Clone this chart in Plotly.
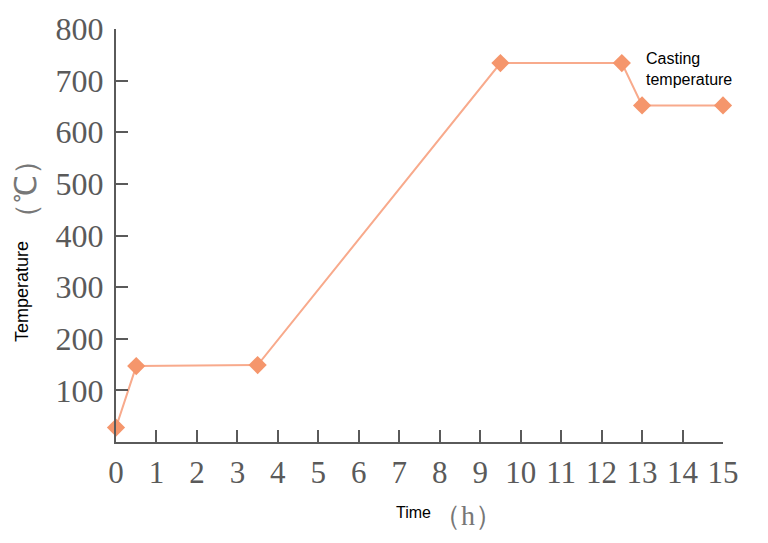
import plotly.graph_objects as go

time_h = [0, 0.5, 3.5, 9.5, 12.5, 13, 15]
temperature_c = [28, 147, 149, 734, 734, 652, 652]
x_ticks = list(range(0, 16))
y_ticks = [100, 200, 300, 400, 500, 600, 700, 800]

axis_col = "#5a5a5a"
serif = "Liberation Serif, Times New Roman, serif"
sans = "Liberation Sans, Arial, sans-serif"

fig = go.Figure()
fig.add_trace(go.Scatter(
    x=time_h, y=temperature_c, mode="lines+markers",
    line=dict(color="#F8AA8C", width=2),
    marker=dict(symbol="diamond", size=14, color="#F5966C"),
    cliponaxis=False, showlegend=False,
))

def label(text, xs, ys, family, size, color, angle=0):
    return dict(text=text, x=0, y=0, xref="paper", yref="paper", xshift=xs, yshift=ys,
                xanchor="center", yanchor="middle", showarrow=False, textangle=angle,
                font=dict(family=family, size=size, color=color))

fig.update_layout(
    width=760, height=535,
    margin=dict(l=108, r=45, t=21, b=101),
    paper_bgcolor="white", plot_bgcolor="white",
    xaxis=dict(range=[0, 15], tickvals=x_ticks, ticktext=[str(v) for v in x_ticks],
               showgrid=False, zeroline=False, showline=True, linecolor=axis_col, linewidth=2,
               ticks="inside", ticklen=12, tickwidth=2, tickcolor=axis_col, automargin=False,
               tickfont=dict(family=serif, size=31, color=axis_col), ticklabelstandoff=2),
    yaxis=dict(range=[0, 800], tickvals=y_ticks, ticktext=[str(v) for v in y_ticks],
               showgrid=False, zeroline=False, showline=True, linecolor=axis_col, linewidth=2,
               ticks="inside", ticklen=12, tickwidth=2, tickcolor=axis_col, automargin=False,
               tickfont=dict(family=serif, size=32, color=axis_col), ticklabelstandoff=4),
    annotations=[
        dict(text="Casting<br>temperature", x=13.05, y=722, xref="x", yref="y",
             xanchor="left", yanchor="middle", align="left", showarrow=False,
             font=dict(family=sans, size=16, color="black")),
        label("Temperature", -94, 150, sans, 18, "black", -90),
        label("（℃）", -91, 253, serif, 30, "#777777", -90),
        label("Time", 297, -70, sans, 16, "black"),
        label("（h）", 352, -73, serif, 28, "#777777"),
    ],
)

fig.write_html("out.html")
